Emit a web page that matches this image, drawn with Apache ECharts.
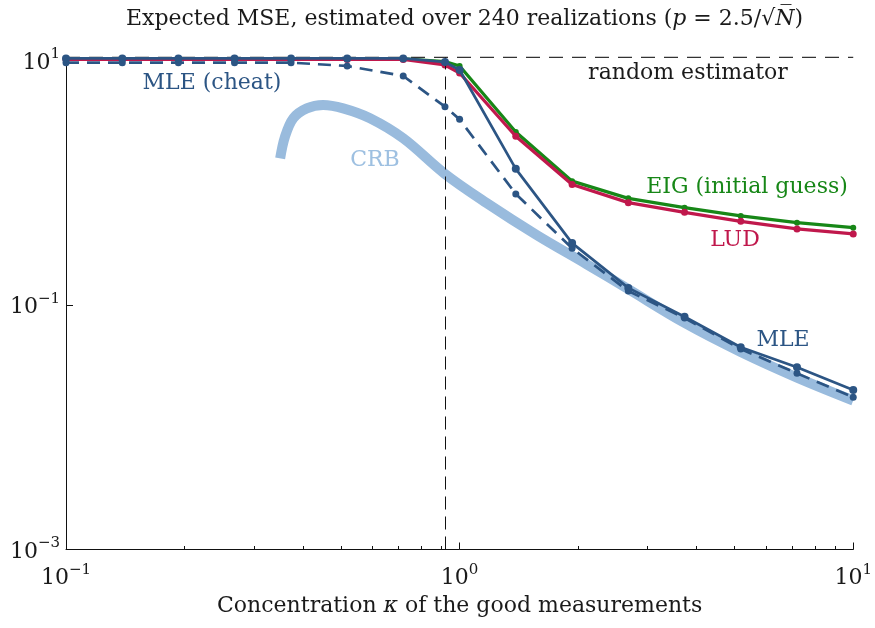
<!DOCTYPE html>
<html>
<head>
<meta charset="utf-8">
<title>Expected MSE vs concentration</title>
<script src="https://cdn.jsdelivr.net/npm/echarts@6/dist/echarts.min.js"></script>
<style>
  html, body { margin: 0; padding: 0; background: #ffffff; }
  #chart { width: 875px; height: 628px; }
</style>
</head>
<body>
<div id="chart"></div>
<script>
// Concentration values (kappa) at which each estimator was evaluated
const kappa = [0.1, 0.139, 0.193, 0.268, 0.373, 0.518, 0.719, 0.918, 1.0, 1.389, 1.931, 2.683, 3.728, 5.179, 7.197, 10];

// Expected MSE of each estimator at those concentrations
const mleValues      = [10.4, 10.4, 10.4, 10.4, 10.4, 10.4, 10.4, 9.72, 8.36, 1.30, 0.321, 0.138, 0.0802, 0.0451, 0.0309, 0.0202];
const mleCheatValues = [9.6, 9.6, 9.6, 9.6, 9.6, 9.02, 7.47, 4.19, 3.30, 0.809, 0.291, 0.130, 0.0783, 0.0437, 0.0276, 0.0176];
const eigValues      = [10.3, 10.3, 10.3, 10.3, 10.3, 10.3, 10.3, 9.78, 9.02, 2.60, 1.03, 0.746, 0.625, 0.535, 0.471, 0.429];
const ludValues      = [10.2, 10.2, 10.2, 10.2, 10.2, 10.2, 10.2, 9.19, 7.90, 2.40, 0.968, 0.687, 0.573, 0.484, 0.419, 0.381];

// Cramér-Rao bound curve
const crbKappa  = [0.350, 0.360, 0.378, 0.409, 0.450, 0.506, 0.592, 0.719, 0.918, 1.171, 1.569, 2.10, 2.68, 3.73, 5.18, 7.2, 10];
const crbValues = [1.585, 2.38, 3.37, 4.06, 4.33, 4.06, 3.37, 2.31, 1.18, 0.683, 0.374, 0.216, 0.135, 0.0713, 0.0413, 0.0255, 0.01655];

// Reference levels: MSE of a random estimator, and the concentration threshold
const randomEstimatorMSE = 10.6;
const kappaThreshold = 0.918;

// Tick exponents on both axes
const xTickExponents = [-1, 0, 1];
const yTickExponents = [-3, -1, 1];

const FONT = '"DejaVu Serif", "Liberation Serif", serif';
const FS = 22;
const C_TEXT = '#1a1a1a';
const C_MLE = '#2c5584';
const C_CRB = '#99bbdd';
const C_EIG = '#178717';
const C_LUD = '#c0184c';

const log10 = v => Math.log10(v);
const pairs = (xs, ys) => xs.map((x, i) => [x, log10(ys[i])]);

const supRich = {
  b: { fontFamily: FONT, fontSize: FS, color: C_TEXT, lineHeight: 27, verticalAlign: 'bottom' },
  s: { fontFamily: FONT, fontSize: 15, color: C_TEXT, lineHeight: 15, verticalAlign: 'top' }
};
const powLabel = e => '{b|10}{s|' + (e < 0 ? '\u2212' + (-e) : e) + '}';
const textRich = {
  n: { fontFamily: FONT, fontSize: FS, color: C_TEXT, fontWeight: 'normal' },
  i: { fontFamily: FONT, fontSize: FS, color: C_TEXT, fontWeight: 'normal', fontStyle: 'italic' }
};

const chart = echarts.init(document.getElementById('chart'), null, { renderer: 'canvas' });

const option = {
  animation: false,
  backgroundColor: '#ffffff',
  title: {
    left: 459.5,
    textAlign: 'center',
    top: 3,
    text: '{n|Expected MSE, estimated over 240 realizations (}{i|p}{n| = 2.5/\u221A}{i|N\u0305}{n|)}',
    textStyle: { fontWeight: 'normal', rich: textRich }
  },
  grid: { left: 66, right: 21.3, top: 57.4, bottom: 78.5, containLabel: false },
  xAxis: {
    type: 'log',
    logBase: 10,
    min: 0.1,
    max: 10,
    axisLine: { show: true, onZero: false, lineStyle: { color: '#111', width: 1 } },
    axisTick: { show: true, inside: true, length: 7, lineStyle: { color: '#111' } },
    minorTick: { show: true, splitNumber: 9, length: 3.5, lineStyle: { color: '#111' } },
    splitLine: { show: false },
    axisLabel: {
      margin: 13,
      formatter: v => {
        const e = Math.round(log10(v));
        return xTickExponents.includes(e) ? powLabel(e) : '';
      },
      rich: supRich
    },
    name: '{n|Concentration }{i|\u03BA}{n| of the good measurements}',
    nameLocation: 'middle',
    nameGap: 46,
    nameTextStyle: { rich: textRich }
  },
  yAxis: {
    type: 'value',
    min: yTickExponents[0],
    max: log10(randomEstimatorMSE),
    interval: 2,
    axisLine: { show: true, onZero: false, lineStyle: { color: '#111', width: 1 } },
    axisTick: { show: true, inside: true, length: 7, lineStyle: { color: '#111' } },
    splitLine: { show: false },
    axisLabel: {
      margin: 6,
      formatter: v => {
        const e = Math.round(v);
        return (Math.abs(v - e) < 1e-6 && yTickExponents.includes(e)) ? powLabel(e) : '';
      },
      rich: supRich
    }
  },
  series: [
    {
      name: 'random estimator',
      type: 'line',
      z: 1,
      clip: false,
      data: [[kappa[0], log10(randomEstimatorMSE)], [kappa[kappa.length - 1], log10(randomEstimatorMSE)]],
      showSymbol: false,
      silent: true,
      lineStyle: { color: '#333', width: 1.3, type: [14, 9] },
      markLine: {
        silent: true,
        symbol: 'none',
        label: { show: false },
        animation: false,
        data: [
          { xAxis: kappaThreshold, lineStyle: { color: '#111', width: 1, type: [13, 7] } }
        ]
      }
    },
    {
      name: 'CRB',
      type: 'line',
      z: 2,
      data: pairs(crbKappa, crbValues),
      smooth: 0.35,
      showSymbol: false,
      lineStyle: { color: C_CRB, width: 10, cap: 'butt' }
    },
    {
      name: 'EIG (initial guess)',
      type: 'line',
      z: 3,
      clip: false,
      data: pairs(kappa, eigValues),
      symbol: 'circle',
      symbolSize: 6,
      itemStyle: { color: C_EIG },
      lineStyle: { color: C_EIG, width: 3.3 }
    },
    {
      name: 'LUD',
      type: 'line',
      z: 4,
      clip: false,
      data: pairs(kappa, ludValues),
      symbol: 'circle',
      symbolSize: 7,
      itemStyle: { color: C_LUD },
      lineStyle: { color: C_LUD, width: 3.3 }
    },
    {
      name: 'MLE (cheat)',
      type: 'line',
      z: 5,
      clip: false,
      data: pairs(kappa, mleCheatValues),
      symbol: 'circle',
      symbolSize: 7,
      itemStyle: { color: C_MLE },
      lineStyle: { color: C_MLE, width: 2.7, type: [13, 8] }
    },
    {
      name: 'MLE',
      type: 'line',
      z: 6,
      clip: false,
      data: pairs(kappa, mleValues),
      symbol: 'circle',
      symbolSize: 8,
      itemStyle: { color: C_MLE },
      lineStyle: { color: C_MLE, width: 2.7 }
    }
  ],
  graphic: [
    { type: 'text', x: 212, y: 83, style: { text: 'MLE (cheat)', fill: C_MLE, font: FS + 'px ' + FONT, textAlign: 'center', textVerticalAlign: 'middle' } },
    { type: 'text', x: 375, y: 160, style: { text: 'CRB', fill: '#9ec0e1', font: FS + 'px ' + FONT, textAlign: 'center', textVerticalAlign: 'middle' } },
    { type: 'text', x: 688, y: 73, style: { text: 'random estimator', fill: C_TEXT, font: FS + 'px ' + FONT, textAlign: 'center', textVerticalAlign: 'middle' } },
    { type: 'text', x: 747, y: 187, style: { text: 'EIG (initial guess)', fill: C_EIG, font: FS + 'px ' + FONT, textAlign: 'center', textVerticalAlign: 'middle' } },
    { type: 'text', x: 735, y: 240, style: { text: 'LUD', fill: C_LUD, font: FS + 'px ' + FONT, textAlign: 'center', textVerticalAlign: 'middle' } },
    { type: 'text', x: 783, y: 340, style: { text: 'MLE', fill: C_MLE, font: FS + 'px ' + FONT, textAlign: 'center', textVerticalAlign: 'middle' } }
  ]
};

chart.setOption(option);
</script>
</body>
</html>
